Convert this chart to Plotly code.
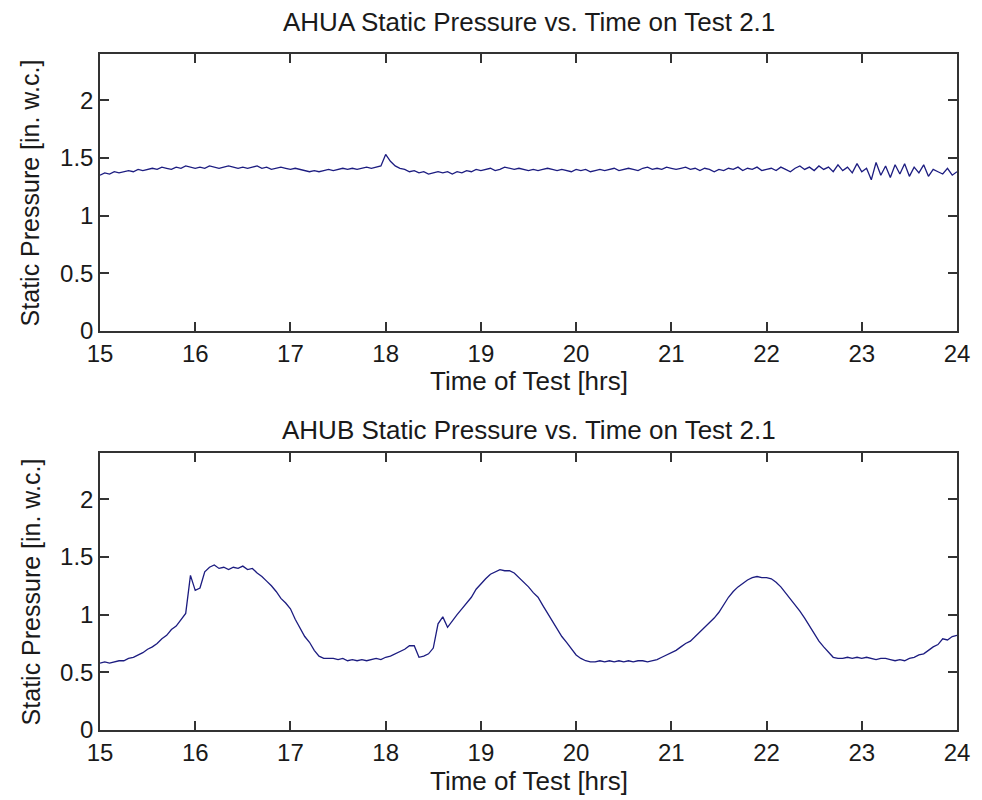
import numpy as np
import plotly.graph_objects as go
from plotly.subplots import make_subplots

# ---- data ----
time_a = np.round(np.arange(15.0, 24.0001, 0.05), 2)
pressure_a = [
    1.35, 1.37, 1.36, 1.38, 1.37, 1.38, 1.39, 1.38, 1.40, 1.39, 1.40,
    1.41, 1.40, 1.42, 1.41, 1.40, 1.42, 1.41, 1.43, 1.42, 1.41,
    1.42, 1.41, 1.43, 1.42, 1.41, 1.42, 1.43, 1.42, 1.41, 1.42,
    1.41, 1.42, 1.43, 1.41, 1.42, 1.40, 1.41, 1.42, 1.41, 1.40,
    1.41, 1.40, 1.39, 1.38, 1.39, 1.38, 1.39, 1.40, 1.39, 1.40,
    1.41, 1.40, 1.41, 1.40, 1.41, 1.42, 1.41, 1.42, 1.43, 1.53,
    1.47, 1.43, 1.41, 1.40, 1.38, 1.39, 1.37, 1.38, 1.36, 1.37,
    1.38, 1.37, 1.38, 1.36, 1.38, 1.37, 1.39, 1.38, 1.40, 1.39,
    1.40, 1.41, 1.39, 1.40, 1.42, 1.41, 1.40, 1.41, 1.40, 1.39,
    1.40, 1.39, 1.40, 1.41, 1.40, 1.39, 1.40, 1.39, 1.38, 1.40,
    1.39, 1.40, 1.38, 1.39, 1.40, 1.39, 1.40, 1.41, 1.39, 1.40,
    1.41, 1.40, 1.39, 1.41, 1.42, 1.40, 1.41, 1.40, 1.42, 1.41,
    1.40, 1.41, 1.42, 1.40, 1.41, 1.39, 1.41, 1.40, 1.38, 1.40,
    1.39, 1.41, 1.40, 1.42, 1.39, 1.41, 1.40, 1.42, 1.39, 1.40,
    1.41, 1.39, 1.42, 1.40, 1.38, 1.41, 1.43, 1.40, 1.42, 1.39,
    1.43, 1.40, 1.42, 1.38, 1.44, 1.39, 1.42, 1.37, 1.45, 1.38,
    1.41, 1.31, 1.46, 1.35, 1.43, 1.33, 1.44, 1.36, 1.45, 1.34,
    1.42, 1.37, 1.44, 1.34, 1.40, 1.38, 1.36, 1.41, 1.35, 1.38,
]

time_b = np.round(np.arange(15.0, 24.0001, 0.05), 2)
pressure_b = [
    0.58, 0.59, 0.58, 0.59, 0.60, 0.60, 0.62, 0.63, 0.65, 0.67, 0.70,
    0.72, 0.75, 0.79, 0.82, 0.87, 0.90, 0.96, 1.01, 1.34, 1.21,
    1.23, 1.37, 1.41, 1.43, 1.40, 1.41, 1.39, 1.41, 1.40, 1.42,
    1.39, 1.40, 1.36, 1.33, 1.29, 1.25, 1.20, 1.14, 1.10, 1.05,
    0.96, 0.89, 0.81, 0.76, 0.69, 0.64, 0.62, 0.62, 0.62, 0.61,
    0.62, 0.60, 0.61, 0.60, 0.61, 0.60, 0.61, 0.62, 0.61, 0.63,
    0.64, 0.66, 0.68, 0.70, 0.73, 0.73, 0.63, 0.64, 0.66, 0.71,
    0.92, 0.98, 0.89, 0.95, 1.00, 1.05, 1.10, 1.15, 1.22, 1.27,
    1.31, 1.35, 1.37, 1.39, 1.38, 1.38, 1.36, 1.32, 1.28, 1.24,
    1.19, 1.15, 1.08, 1.01, 0.94, 0.87, 0.81, 0.76, 0.70, 0.65,
    0.62, 0.60, 0.59, 0.59, 0.60, 0.59, 0.60, 0.59, 0.60, 0.59,
    0.60, 0.59, 0.60, 0.60, 0.59, 0.60, 0.61, 0.63, 0.65, 0.67,
    0.69, 0.72, 0.75, 0.77, 0.81, 0.85, 0.89, 0.93, 0.97, 1.02,
    1.09, 1.15, 1.20, 1.24, 1.27, 1.30, 1.32, 1.33, 1.32, 1.32,
    1.31, 1.28, 1.24, 1.19, 1.14, 1.09, 1.03, 0.97, 0.90, 0.83,
    0.77, 0.72, 0.67, 0.63, 0.62, 0.62, 0.63, 0.62, 0.63, 0.62,
    0.63, 0.62, 0.61, 0.62, 0.62, 0.61, 0.60, 0.61, 0.60, 0.62,
    0.63, 0.65, 0.66, 0.69, 0.72, 0.74, 0.79, 0.78, 0.81, 0.82,
]

x_ticks = list(range(15, 25))
y_ticks = [0, 0.5, 1, 1.5, 2]
y_tick_labels = ["0", "0.5", "1", "1.5", "2"]

titles = ["AHUA Static Pressure vs. Time on Test 2.1",
          "AHUB Static Pressure vs. Time on Test 2.1"]
x_label = "Time of Test [hrs]"
y_label = "Static Pressure [in. w.c.]"

# ---- figure ----
W, H = 982, 800
ML, MR, MT, MB = 100, 14, 54, 70
PH = H - MT - MB

def fy(py):
    return (H - MB - py) / PH

fig = make_subplots(rows=2, cols=1)
line_color = "#1c1c80"
fig.add_trace(go.Scatter(x=time_a, y=pressure_a, mode="lines",
                         line=dict(color=line_color, width=1.3), showlegend=False), row=1, col=1)
fig.add_trace(go.Scatter(x=time_b, y=pressure_b, mode="lines",
                         line=dict(color=line_color, width=1.3), showlegend=False), row=2, col=1)

family = "Liberation Sans, Arial, sans-serif"
tick_font = dict(family=family, size=24, color="#1a1a1a")
title_font = dict(family=family, size=26, color="#1a1a1a")
ylab_font = dict(family=family, size=25, color="#1a1a1a")
axis_common = dict(showgrid=False, zeroline=False, showline=True, linecolor="#333333",
                   linewidth=1.5, mirror="ticks", ticks="inside", ticklen=9,
                   tickwidth=1.5, tickcolor="#333333", tickfont=tick_font)

fig.update_layout(
    width=W, height=H, paper_bgcolor="white", plot_bgcolor="white",
    margin=dict(l=ML, r=MR, t=MT, b=MB),
    xaxis=dict(domain=[0, 1], range=[15, 24], tickvals=x_ticks, **axis_common),
    xaxis2=dict(domain=[0, 1], range=[15, 24], tickvals=x_ticks, **axis_common),
    yaxis=dict(domain=[fy(331), 1.0], range=[0, 2.4], tickvals=y_ticks,
               ticktext=y_tick_labels, **axis_common),
    yaxis2=dict(domain=[0, fy(453)], range=[0, 2.4], tickvals=y_ticks,
                ticktext=y_tick_labels, **axis_common),
)

ann = []
for t, py in zip(titles, [22, 430]):
    ann.append(dict(text=t, x=0.5, xref="paper", y=fy(py), yref="paper",
                    xanchor="center", yanchor="middle", showarrow=False, font=title_font))
for py in [381, 781]:
    ann.append(dict(text=x_label, x=0.5, xref="paper", y=fy(py), yref="paper",
                    xanchor="center", yanchor="middle", showarrow=False, font=title_font))
for pc in [(54 + 331) / 2, (453 + 730) / 2]:
    ann.append(dict(text=y_label, x=(30 - ML) / (W - ML - MR), xref="paper",
                    y=fy(pc), yref="paper", xanchor="center", yanchor="middle",
                    textangle=-90, showarrow=False, font=ylab_font))
fig.update_layout(annotations=ann)

fig.write_html(
    "out.html",
    config={"displayModeBar": False},
    post_script="document.body.style.margin='0';document.body.style.overflow='hidden';",
)
